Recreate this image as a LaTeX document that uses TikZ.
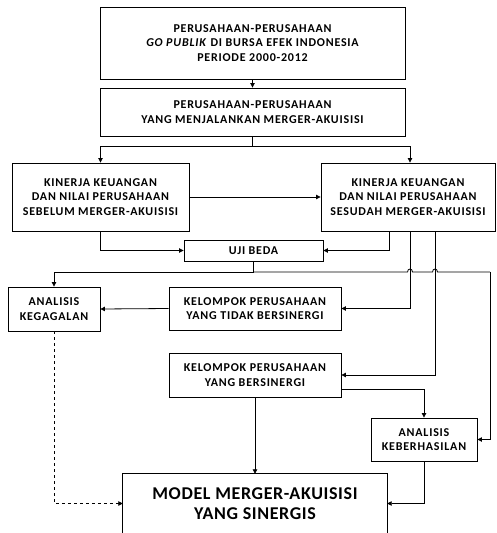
\documentclass[tikz,border=0pt]{standalone}
\usepackage{fontspec}
\setmainfont{Carlito}[BoldFont={Carlito Bold}, ItalicFont={Carlito Italic}, BoldItalicFont={Carlito Bold Italic}, LetterSpace=6.5]
\newfontfamily\modelfont{Carlito}[BoldFont={Carlito Bold}, LetterSpace=3.5]
\usetikzlibrary{arrows.meta}
\begin{document}
\begin{tikzpicture}[x=1pt,y=-1pt,
  box/.style={draw, line width=0.9pt, align=center, inner sep=0pt, font=\bfseries\fontsize{12}{14.5}\selectfont},
  con/.style={line width=0.8pt, -{Triangle[length=4.5pt,width=4.5pt]}},
  ln/.style={line width=0.8pt}]
\useasboundingbox (0,0) rectangle (497,533);
\node[box, minimum width=305pt, minimum height=72pt] (b1) at (252.5,43) {PERUSAHAAN-PERUSAHAAN\\\textit{GO PUBLIK} DI BURSA EFEK INDONESIA\\PERIODE 2000-2012};
\node[box, minimum width=305pt, minimum height=48pt] (b2) at (252.5,112) {PERUSAHAAN-PERUSAHAAN\\YANG MENJALANKAN MERGER-AKUISISI};
\node[box, minimum width=177pt, minimum height=68pt] (kk1) at (100.5,197) {KINERJA KEUANGAN\\DAN NILAI PERUSAHAAN\\SEBELUM MERGER-AKUISISI};
\node[box, minimum width=174pt, minimum height=68pt] (kk2) at (408,197) {KINERJA KEUANGAN\\DAN NILAI PERUSAHAAN\\SESUDAH MERGER-AKUISISI};
\node[box, minimum width=139pt, minimum height=21pt] (uji) at (253.5,250.5) {UJI BEDA};
\node[box, minimum width=92pt, minimum height=44pt] (ak) at (54,309) {ANALISIS\\KEGAGALAN};
\node[box, minimum width=172pt, minimum height=43pt] (kt) at (255,308.5) {KELOMPOK PERUSAHAAN\\YANG TIDAK BERSINERGI};
\node[box, minimum width=172pt, minimum height=44pt] (kb) at (255,375) {KELOMPOK PERUSAHAAN\\YANG BERSINERGI};
\node[box, minimum width=106pt, minimum height=43pt] (akb) at (424,439.5) {ANALISIS\\KEBERHASILAN};
\node[align=center, inner sep=0pt, minimum width=264pt, minimum height=59pt, font=\modelfont\bfseries\fontsize{18}{19.5}\selectfont] (model) at (255,503.5) {MODEL MERGER-AKUISISI\\YANG SINERGIS};
\draw[line width=0.9pt] (model.south west) -- (model.north west) -- (model.north east) -- (model.south east);
% connectors
\draw[con] (b1.south) -- (b2.north);
\coordinate (split) at (252.5,146);
\draw[ln] (b2.south) -- (split);
\draw[con] (split) -| (kk1.north);
\draw[con] (split) -| ([xshift=2pt]kk2.north);
\draw[con] (kk1.east) -- (kk2.west);
\draw[con] (kk1.south) |- (uji.west);
\draw[con] ([xshift=-19pt]kk2.south) |- (uji.east);
\coordinate (us) at (253.5,272);
\draw[ln] (uji.south) -- (us);
\draw[con] (us) -| (ak.north);
\coordinate (jr) at (490,272);
\draw[ln] (us) -- (407.5,272) .. controls (407.5,268) and (412.5,268) .. (412.5,272) -- (432.5,272) .. controls (432.5,268) and (437.5,268) .. (437.5,272) -- (jr);
\draw[con] (jr) |- (akb.east);
\draw[con] ([xshift=2pt]kk2.south) |- (kt.east);
\draw[con] ([xshift=27pt]kk2.south) |- (kb.east);
\draw[con] (kt.west) -- (ak.east);
\draw[con] ([yshift=-14pt]kb.east) -| (akb.north);
\draw[con] (kb.south) -- (model.north);
\draw[con] (akb.south) |- (model.east);
\draw[con, dashed] (ak.south) |- (model.west);
\end{tikzpicture}
\end{document}
